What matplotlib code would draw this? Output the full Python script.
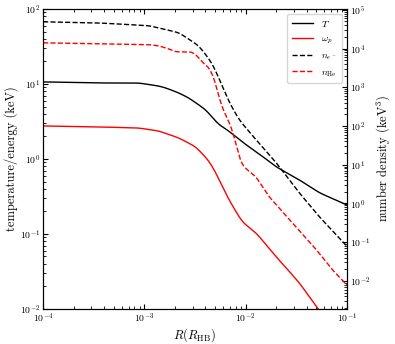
import numpy as np
import matplotlib
matplotlib.use("Agg")
import matplotlib.pyplot as plt

plt.rcParams['font.family'] = 'serif'
plt.rcParams['font.serif'] = ['cmr10', 'DejaVu Serif']
plt.rcParams['mathtext.fontset'] = 'cm'
plt.rcParams['axes.formatter.use_mathtext'] = True
plt.rcParams['axes.unicode_minus'] = False

# log10 of radius (R_HB) and log10 of the quantities
logR_T = [-4.0, -3.454, -3.057, -2.858, -2.788, -2.659, -2.56, -2.461, -2.391, -2.332,
          -2.262, -2.193, -2.093, -2.034, -1.865, -1.696, -1.468, -1.269, -1.0]
logT = [1.027, 1.013, 1.013, 0.973, 0.947, 0.88, 0.813, 0.72, 0.653, 0.56,
        0.453, 0.40, 0.293, 0.227, 0.067, -0.107, -0.28, -0.453, -0.613]

logR_wp = [-4.0, -3.454, -3.057, -2.858, -2.659, -2.49, -2.361, -2.292, -2.242, -2.163,
           -2.034, -1.895, -1.696, -1.468, -1.299, -1.0]
logwp = [0.44, 0.427, 0.413, 0.373, 0.28, 0.16, -0.027, -0.187, -0.333, -0.547,
         -0.84, -0.987, -1.307, -1.653, -1.973, -2.47]

logR_ne = [-4.0, -3.454, -2.957, -2.659, -2.461, -2.332, -2.242, -2.163, -2.064, -1.895,
           -1.696, -1.468, -1.269, -1.0]
logne = [4.69, 4.66, 4.59, 4.41, 4.07, 3.63, 3.11, 2.62, 2.16, 1.64,
         1.05, 0.27, -0.35, -1.10]

logR_nhe = [-4.0, -3.454, -2.957, -2.858, -2.759, -2.689, -2.61, -2.54, -2.49, -2.431,
            -2.361, -2.312, -2.282, -2.232, -2.143, -2.083, -2.054, -2.014, -1.895, -1.766,
            -1.537, -1.299, -1.14, -1.0]
lognhe = [4.147, 4.12, 4.10, 4.07, 3.99, 3.915, 3.915, 3.915, 3.84, 3.66,
          3.50, 3.24, 2.93, 2.49, 1.98, 1.43, 1.12, 0.94, 0.68, 0.17,
          -0.5, -1.2, -1.72, -2.1]


def smooth(xs, ys, width=0.03):
    # interpolate in log-log, then soften the corners a little
    xf = np.linspace(xs[0], xs[-1], 800)
    yf = np.interp(xf, xs, ys)
    step = xf[1] - xf[0]
    k = np.arange(-int(3 * width / step), int(3 * width / step) + 1) * step
    kern = np.exp(-0.5 * (k / width)**2)
    kern /= kern.sum()
    n = len(k) // 2
    yp = np.concatenate([2 * yf[0] - yf[n:0:-1], yf, 2 * yf[-1] - yf[-2:-n - 2:-1]])
    ys_s = np.convolve(yp, kern, mode='valid')
    return 10**xf, 10**ys_s


fig = plt.figure(figsize=(3.95, 3.44), dpi=100)
ax = fig.add_axes([0.109, 0.102, 0.769, 0.872])
ax2 = ax.twinx()

l1, = ax.plot(*smooth(logR_T, logT), color='k', lw=1.0, label=r'$T$')
l2, = ax.plot(*smooth(logR_wp, logwp), color='r', lw=1.0, label=r'$\omega_p$')
l3, = ax2.plot(*smooth(logR_ne, logne), color='k', ls='--', lw=1.0, label=r'$n_{e^-}$')
l4, = ax2.plot(*smooth(logR_nhe, lognhe, 0.015), color='r', ls='--', lw=1.0, label=r'$n_{\rm He}$')

for a in (ax, ax2):
    a.set_xscale('log')
    a.set_yscale('log')
    a.set_xlim(1e-4, 1e-1)
    a.tick_params(which='both', direction='in', labelsize=7, pad=2)
ax.tick_params(which='both', top=True)
ax.set_ylim(1e-2, 1e2)
ax2.set_ylim(1.9e-3, 1.05e5)
ax2.set_yticks([1e-2, 1e-1, 1e0, 1e1, 1e2, 1e3, 1e4, 1e5])

ax.set_xlabel(r'$R(R_{\rm HB})$', fontsize=9, labelpad=1)
ax.set_ylabel('temperature/energy (keV)', fontsize=9, labelpad=1)
ax2.set_ylabel(r'number density (keV$^3$)', fontsize=9, labelpad=3)

ax.legend(handles=[l1, l2, l3, l4], loc='upper right', fontsize=7,
          handlelength=2.2, borderpad=0.5, labelspacing=0.6)

fig.savefig('out.png', dpi=100)
